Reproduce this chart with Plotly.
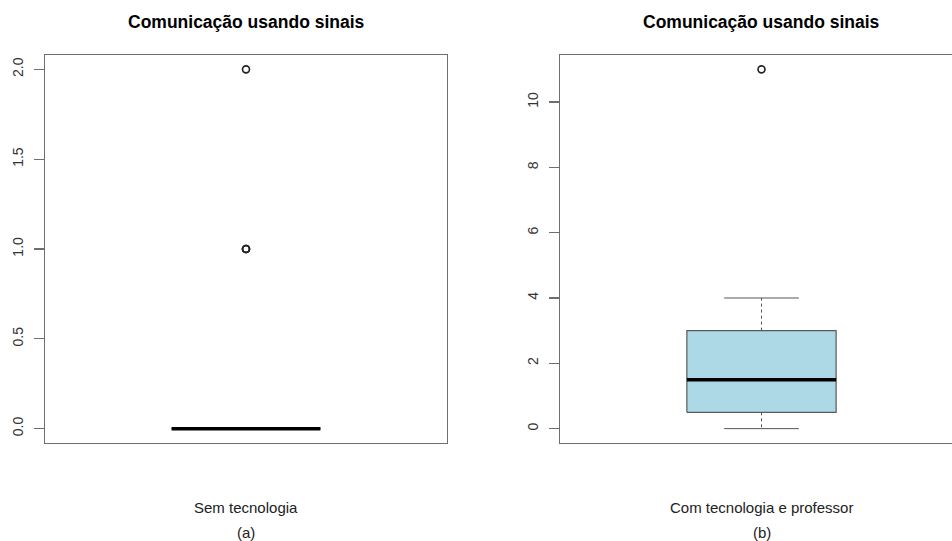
import plotly.graph_objects as go

# ---- data ----
panel_titles = ["Comunicação usando sinais", "Comunicação usando sinais"]
group_labels = ["Sem tecnologia", "Com tecnologia e professor"]
panel_tags = ["(a)", "(b)"]

# five-number summaries: lower whisker, q1, median, q3, upper whisker
stats_a = [0, 0, 0, 0, 0]
stats_b = [0, 0.5, 1.5, 3, 4]
outliers_a = [1, 1, 1, 2]
outliers_b = [11]

yticks_a = [0.0, 0.5, 1.0, 1.5, 2.0]
yticks_a_text = ["0.0", "0.5", "1.0", "1.5", "2.0"]
yticks_b = [0, 2, 4, 6, 8, 10]
yticks_b_text = ["0", "2", "4", "6", "8", "10"]

W, H = 952, 541
FONT = "Liberation Sans, Arial, Helvetica, sans-serif"
AXIS_COL = "#6e6e6e"
BOX_EDGE = "#5a5a5a"
FILL = "#ADD8E6"

fig = go.Figure()


def add_box(stats, outliers, xa, ya, fill):
    lo, q1, med, q3, hi = stats
    c, hw, cw = 1.0, 0.2, 0.1
    common = dict(xaxis=xa, yaxis=ya, showlegend=False, hoverinfo="skip")
    # whiskers (dashed)
    fig.add_trace(go.Scatter(x=[c, c, None, c, c], y=[q3, hi, None, q1, lo], mode="lines",
                             line=dict(color="#555555", width=1, dash="3px,3px"), **common))
    # caps
    fig.add_trace(go.Scatter(x=[c - cw, c + cw, None, c - cw, c + cw], y=[hi, hi, None, lo, lo],
                             mode="lines", line=dict(color="#555555", width=1), **common))
    # box
    fig.add_trace(go.Scatter(x=[c - hw, c + hw, c + hw, c - hw, c - hw], y=[q1, q1, q3, q3, q1],
                             mode="lines", fill="toself", fillcolor=fill,
                             line=dict(color=BOX_EDGE, width=1.2), **common))
    # median
    fig.add_trace(go.Scatter(x=[c - hw, c + hw], y=[med, med], mode="lines",
                             line=dict(color="black", width=3.5), **common))
    # outliers
    fig.add_trace(go.Scatter(x=[c] * len(outliers), y=outliers, mode="markers",
                             marker=dict(symbol="circle-open", size=7, color="#222222",
                                         line=dict(width=1.6)), **common))


add_box(stats_a, outliers_a, "x", "y", FILL)
add_box(stats_b, outliers_b, "x2", "y2", FILL)

ytop = 1 - 55 / H
ybot = 1 - 443 / H

xr_a = [0.46, 1.54]
# right panel is cut off by the image edge: its full box would span 560..963 px
xr_b = [0.46, 0.46 + 1.08 * (W - 560) / 403]

axis_font = dict(family=FONT, size=14, color="#333333")

fig.update_layout(
    width=W, height=H,
    margin=dict(l=0, r=0, t=0, b=0),
    paper_bgcolor="white", plot_bgcolor="white",
    xaxis=dict(domain=[45 / W, 447 / W], range=xr_a, showgrid=False, zeroline=False,
               showticklabels=False, ticks="", showline=True, mirror=True,
               linecolor=AXIS_COL, linewidth=1.3, fixedrange=True),
    yaxis=dict(domain=[ybot, ytop], range=[-0.08, 2.08], showgrid=False, zeroline=False,
               tickvals=yticks_a, ticktext=yticks_a_text, tickangle=-90, ticks="outside",
               ticklen=10, tickcolor=AXIS_COL, tickwidth=1.2, tickfont=axis_font,
               ticklabelstandoff=5,
               showline=True, mirror=True, linecolor=AXIS_COL, linewidth=1.3,
               automargin=False),
    xaxis2=dict(domain=[560 / W, 1.0], range=xr_b, showgrid=False, zeroline=False,
                showticklabels=False, ticks="", showline=True, mirror=True,
                linecolor=AXIS_COL, linewidth=1.3, anchor="y2"),
    yaxis2=dict(domain=[ybot, ytop], range=[-0.44, 11.44], showgrid=False, zeroline=False,
                tickvals=yticks_b, ticktext=yticks_b_text, tickangle=-90, ticks="outside",
                ticklen=10, tickcolor=AXIS_COL, tickwidth=1.2, tickfont=axis_font,
                ticklabelstandoff=5,
                showline=True, mirror=False, linecolor=AXIS_COL, linewidth=1.3,
                anchor="x2", automargin=False),
)

ann = []
for i, (xr, ttl, lab, tag) in enumerate(zip(["x", "x2"], panel_titles, group_labels, panel_tags)):
    ann.append(dict(xref=xr, yref="paper", x=1.0, y=1 - 22 / H, text="<b>" + ttl + "</b>",
                    showarrow=False, yanchor="middle", xanchor="center",
                    font=dict(family=FONT, size=17.5, color="black")))
    ann.append(dict(xref=xr, yref="paper", x=1.0, y=1 - 507 / H, text=lab,
                    showarrow=False, yanchor="middle", xanchor="center",
                    font=dict(family=FONT, size=15, color="#222222")))
    ann.append(dict(xref=xr, yref="paper", x=1.0, y=1 - 532 / H, text=tag,
                    showarrow=False, yanchor="middle", xanchor="center",
                    font=dict(family=FONT, size=15, color="#222222")))
fig.update_layout(annotations=ann)

fig.write_html("out.html", config={"displayModeBar": False, "staticPlot": True},
               post_script="document.body.style.margin='0px';document.body.style.overflow='hidden';")
